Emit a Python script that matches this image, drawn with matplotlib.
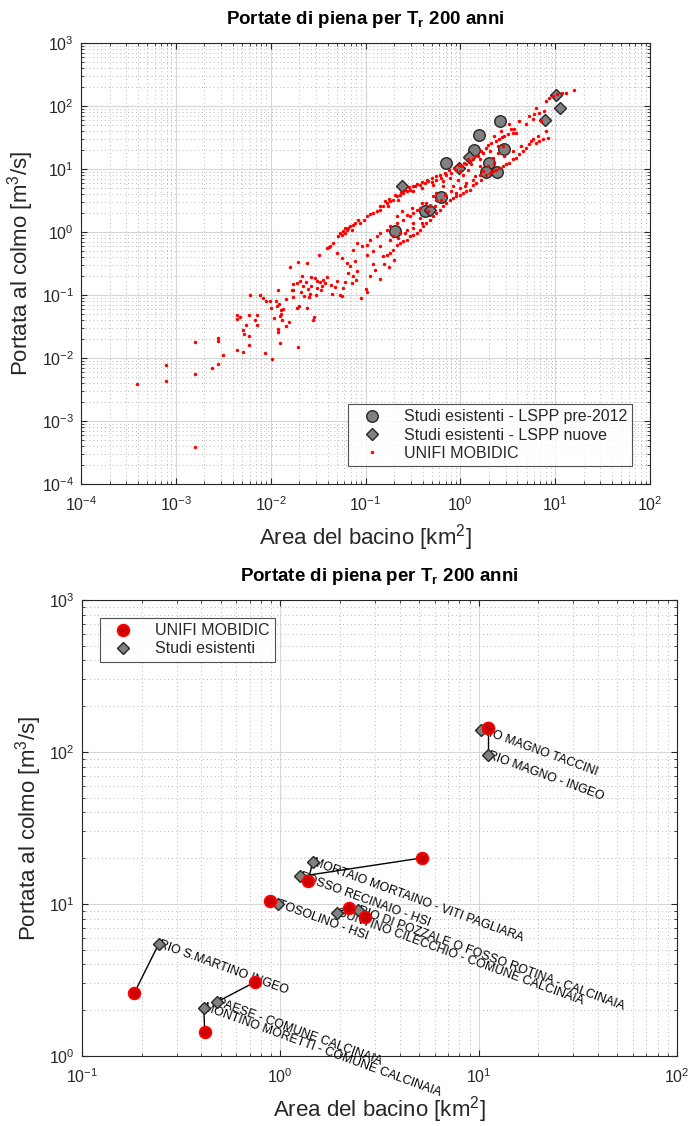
import numpy as np
import matplotlib
matplotlib.use("Agg")
import matplotlib.pyplot as plt
from matplotlib.ticker import LogLocator, NullFormatter, FixedLocator, LogFormatterSciNotation

plt.rcParams['font.family'] = ['Liberation Sans', 'DejaVu Sans']
plt.rcParams['mathtext.fontset'] = 'custom'
plt.rcParams['mathtext.rm'] = 'Liberation Sans'
plt.rcParams['mathtext.it'] = 'Liberation Sans:italic'
plt.rcParams['mathtext.bf'] = 'Liberation Sans:bold'

# ---------------- top chart data (log10 values) ----------------
mobidic_log_area = [
    -3.405, -3.102, -3.102, -2.799, -2.799, -2.799, -2.623, -2.556, -2.500, -2.560,
    -2.556, -2.359, -2.289, -2.359, -2.359, -2.320, -2.257, -2.289, -2.285, -2.225,
    -2.225, -2.225, -2.222, -2.169, -2.144, -2.144, -2.116, -2.077, -2.056, -2.053,
    -2.007, -2.000, -1.986, -1.968, -1.944, -1.937, -1.926, -1.923, -1.919, -1.912,
    -1.901, -1.894, -1.891, -1.898, -1.877, -1.870, -1.842, -1.835, -1.810, -1.799,
    -1.768, -1.771, -1.761, -1.761, -1.722, -1.718, -1.711, -1.711, -1.704, -1.690,
    -1.680, -1.673, -1.655, -1.644, -1.627, -1.620, -1.613, -1.602, -1.592, -1.585,
    -1.577, -1.570, -1.549, -1.539, -1.532, -1.521, -1.514, -1.507, -1.479, -1.472,
    -1.461, -1.444, -1.423, -1.401, -1.366, -1.349, -1.320, -1.296, -1.268, -1.250,
    -1.232, -1.215, -1.197, -1.180, -1.162, -1.109, -1.092, -1.127, -1.144, -1.099,
    -1.493, -1.408, -1.387, -1.338, -1.285, -1.268, -1.250, -1.232, -1.215, -1.197,
    -1.180, -1.162, -1.127, -1.109, -1.215, -1.144, -1.074, -1.373, -1.303, -1.250,
    -1.092, -1.127,
    -1.056, -1.021, -0.986, -0.951, -0.916, -0.881, -0.846, -0.811, -0.776, -0.741,
    -0.706, -0.671, -0.636, -0.601, -0.566, -0.531, -0.479, -0.427, -0.374, -0.339,
    -0.304, -0.252, -0.199, -0.147, -0.094, -0.042, 0.010, 0.056, 0.098, 0.133,
    0.185, 0.238, 0.273, 0.325, 0.360, 0.413, 0.430, 0.517, 0.570, 0.622,
    0.727, 0.762, 0.797, 0.832, 0.850, 0.885, 0.902, 0.937, 0.972, 1.024,
    1.077, 1.112, 1.199,
    -0.846, -0.759, -0.654, -0.497, -0.409, -0.287, -0.182, -0.112, -0.007, 0.115,
    0.203, 0.308, 0.395, 0.465, 0.552, 0.692, 0.780,
    -0.811, -0.776, -0.741, -0.706, -0.671, -0.636, -0.601, -0.566, -0.531, -0.497,
    -0.462, -0.427, -0.392, -0.357, -0.322, -0.287, -0.252, -0.217, -0.182, -0.147,
    -0.112, -0.077, -0.042, -0.007, 0.028, 0.063, 0.098, 0.133, 0.168, 0.220,
    0.273, 0.308, 0.343, 0.378, 0.413, 0.448, 0.483, 0.517, 0.552, 0.587,
    0.622, 0.657, 0.692, 0.727, 0.745, 0.797, 0.832, 0.867, 0.920,
    0.587, 0.500, 0.448, 0.395, 0.343, 0.203, 0.080, 0.028, -0.024, -0.077,
    -0.182, -0.252, -0.287, -0.357, -0.427, -0.497, -0.531, -0.601, -0.671, -0.741,
    -0.776, -0.846, -0.881, -0.951, -0.986, -1.038, -0.706, -0.636, -0.566, -0.497,
    -0.427, -0.339, -0.269, -0.199, -0.042, 0.045, 0.133, 0.238,
    -1.000, -0.950, -0.900, -0.850, -0.800, -0.750, -0.700, -1.050, -0.980, -0.920,
    -0.794, -0.748, -0.689, -0.629, -0.584, -0.538, -0.503, -0.455, -0.399, -0.350,
    -0.304, -0.259, -0.217, -0.164, -0.119, -0.070, -0.014, 0.035, 0.080, 0.150,
    0.220, 0.290, 0.371, 0.441, 0.535,
    -0.671, -0.619, -0.566, -0.514, -0.462, -0.409, -0.322, -0.252, -0.164, -0.094,
    -0.007, 0.063, 0.150, 0.203, 0.290, 0.360, 0.465, 0.552, 0.640, 0.762,
    0.815, 0.902, -0.741, -0.654, -0.584, -0.497, -0.409, -0.846, -0.916, -0.986,
]
mobidic_log_q = [
    -2.413, -2.116, -2.360, -1.751, -2.254, -3.418, -2.153, -2.095, -1.958, -1.688,
    -1.725, -1.873, -1.905, -1.317, -1.381, -1.354, -1.471, -1.550, -1.619, -1.317,
    -1.646, -1.799, -1.000, -1.402, -1.317, -1.481, -1.000, -1.053, -1.921, -1.095,
    -1.101, -1.212, -2.016, -1.370, -1.101, -1.175, -0.915, -1.540, -1.582, -1.138,
    -1.328, -1.233, -1.296, -1.762, -1.397, -1.222, -1.497, -1.063, -1.434, -0.556,
    -0.831, -0.915, -0.926, -1.032, -1.212, -0.810, -0.476, -1.820, -1.169, -0.772,
    -0.952, -0.704, -0.852, -1.021, -0.794, -0.487, -1.206, -0.905, -1.037, -0.979,
    -0.857, -0.714, -1.392, -1.349, -0.735, -1.005, -0.783, -0.884, -0.788, -0.926,
    -0.862, -0.757, -0.810, -0.714, -0.836, -0.979, -0.873, -0.783, -0.995, -1.016,
    -0.889, -0.788, -0.492, -0.651, -0.545, -0.466, -0.624, -0.704, -0.810, -0.757,
    -0.370, -0.254, -0.243, -0.180, -0.058, -0.016, -0.042, 0.011, -0.016, 0.037,
    0.063, 0.090, 0.116, 0.143, 0.063, 0.037, 0.196, -0.228, -0.333, -0.413,
    -0.175, -0.280,
    0.143, 0.196, 0.249, 0.292, 0.302, 0.329, 0.355, 0.408, 0.462, 0.488,
    0.515, 0.568, 0.594, 0.621, 0.647, 0.674, 0.727, 0.753, 0.780, 0.806,
    0.859, 0.833, 0.859, 0.897, 0.939, 0.992, 1.045, 1.072, 1.125, 1.151,
    1.204, 1.257, 1.337, 1.416, 1.523, 1.469, 1.602, 1.708, 1.629, 1.761,
    1.841, 1.788, 1.973, 1.894, 1.761, 1.920, 2.080, 2.133, 2.159, 2.186,
    2.212, 2.212, 2.255,
    0.408, 0.408, 0.515, 0.647, 0.700, 0.753, 0.806, 0.859, 0.966, 1.072,
    1.151, 1.284, 1.363, 1.523, 1.576, 1.708, 1.867,
    -0.387, -0.361, -0.334, -0.281, -0.202, -0.175, -0.149, -0.122, -0.069, -0.042,
    -0.016, 0.037, 0.090, 0.143, 0.196, 0.249, 0.302, 0.355, 0.408, 0.462,
    0.515, 0.541, 0.568, 0.594, 0.621, 0.647, 0.674, 0.753, 0.780, 0.833,
    0.912, 0.939, 0.966, 0.992, 1.019, 1.045, 1.072, 1.098, 1.151, 1.178,
    1.231, 1.284, 1.337, 1.390, 1.443, 1.416, 1.443, 1.469, 1.496,
    1.576, 1.549, 1.363, 1.257, 1.178, 1.045, 0.992, 0.912, 0.833, 0.727,
    0.727, 0.621, 0.568, 0.462, 0.382, 0.302, 0.249, 0.196, 0.143, 0.090,
    0.037, -0.016, -0.069, -0.122, -0.202, -0.228, -0.069, -0.016, 0.037, 0.143,
    0.223, 0.329, 0.408, 0.515, 0.621, 0.727, 0.833, 0.966,
    -0.900, -0.700, -0.600, -0.750, -0.500, -0.550, -0.450, -1.050, -0.950, -0.500,
    0.488, 0.525, 0.594, 0.631, 0.674, 0.711, 0.737, 0.769, 0.790, 0.833,
    0.801, 0.886, 0.912, 0.939, 0.981, 1.019, 1.056, 1.098, 1.151, 1.204,
    1.284, 1.374, 1.443, 1.512, 1.629,
    0.249, 0.329, 0.276, 0.382, 0.355, 0.462, 0.408, 0.515, 0.594, 0.647,
    0.700, 0.780, 0.886, 0.912, 1.045, 1.098, 1.204, 1.284, 1.363, 1.469,
    1.523, 1.602, -0.122, -0.096, -0.016, 0.064, 0.143, -0.228, -0.308, -0.361,
]

pre2012_area = [2.65, 1.56, 2.92, 1.41, 0.71, 2.03, 1.87, 2.44, 0.62, 0.42, 0.205]
pre2012_q = [57.0, 35.0, 20.4, 20.0, 12.6, 12.6, 8.9, 9.0, 3.6, 2.14, 1.05]

nuove_area = [10.2, 11.2, 7.85, 1.23, 0.97, 0.24, 0.48]
nuove_q = [148.0, 94.0, 61.0, 15.6, 10.2, 5.3, 2.2]

top_xticks = [1e-4, 1e-3, 1e-2, 1e-1, 1e0, 1e1, 1e2]
top_yticks = [1e-4, 1e-3, 1e-2, 1e-1, 1e0, 1e1, 1e2, 1e3]

# ---------------- bottom chart data ----------------
study_names = [
    "RIO MAGNO TACCINI",
    "RIO MAGNO - INGEO",
    "MORTAIO MORTAINO - VITI PAGLIARA",
    "FOSSO RECINAIO - HSI",
    "TOSOLINO - HSI",
    "GUNTINO CILECCHIO - COMUNE CALCINAIA",
    "RIO DI POZZALE O FOSSO ROTINA - CALCINAIA",
    "RIO S.MARTINO INGEO",
    "PAESE - COMUNE CALCINAIA",
    "MONTINO MORETTI - COMUNE CALCINAIA",
]
study_area = [10.3, 11.1, 1.456, 1.26, 0.974, 1.93, 2.46, 0.244, 0.477, 0.411]
study_q = [139.0, 95.5, 18.9, 15.2, 9.95, 8.79, 9.1, 5.48, 2.26, 2.08]
mob_area = [11.1, 11.1, 1.38, 5.19, 0.891, 2.23, 2.66, 0.183, 0.743, 0.416]
mob_q = [143.0, 143.0, 14.1, 20.1, 10.5, 9.46, 8.22, 2.58, 3.06, 1.43]

bot_xticks = [1e-1, 1e0, 1e1, 1e2]
bot_yticks = [1e0, 1e1, 1e2, 1e3]

title_txt = r"Portate di piena per $\mathbf{T_r}$ 200 anni"
xlab = r"Area del bacino [km$^2$]"
ylab = r"Portata al colmo [m$^3$/s]"

axis_col = (0.15, 0.15, 0.15)


def style_axes(ax, xticks, yticks):
    ax.set_xscale('log')
    ax.set_yscale('log')
    ax.set_xlim(xticks[0], xticks[-1])
    ax.set_ylim(yticks[0], yticks[-1])
    ax.xaxis.set_major_locator(FixedLocator(xticks))
    ax.yaxis.set_major_locator(FixedLocator(yticks))
    ax.xaxis.set_major_formatter(LogFormatterSciNotation())
    ax.yaxis.set_major_formatter(LogFormatterSciNotation())
    ax.xaxis.set_minor_locator(LogLocator(base=10, subs=np.arange(2, 10), numticks=200))
    ax.yaxis.set_minor_locator(LogLocator(base=10, subs=np.arange(2, 10), numticks=200))
    ax.xaxis.set_minor_formatter(NullFormatter())
    ax.yaxis.set_minor_formatter(NullFormatter())
    ax.grid(True, which='major', color='#d6d6d6', lw=0.8, zorder=0)
    ax.grid(True, which='minor', color='#b8b8b8', ls=(0, (1, 3)), lw=0.7, zorder=0)
    ax.set_axisbelow(True)
    ax.tick_params(which='both', direction='in', top=True, right=True, colors=axis_col,
                   labelsize=11.5, labelcolor=axis_col)
    ax.tick_params(axis='x', which='major', pad=8)
    ax.tick_params(axis='y', which='major', pad=5)
    ax.tick_params(which='major', length=4, width=0.8)
    ax.tick_params(which='minor', length=2.5, width=0.6)
    for s in ax.spines.values():
        s.set_color(axis_col)
        s.set_linewidth(0.8)
    ax.set_title(title_txt, fontsize=13.5, fontweight='bold', pad=14)
    ax.set_xlabel(xlab, fontsize=16, color=axis_col, labelpad=6)
    ax.set_ylabel(ylab, fontsize=16, color=axis_col, labelpad=4)


fig = plt.figure(figsize=(6.91, 11.26), dpi=100)
W, H = 691.0, 1126.0

# ---------------- top chart ----------------
ax1 = fig.add_axes([81 / W, 1 - 484 / H, (650 - 81) / W, (484 - 43) / H])
style_axes(ax1, top_xticks, top_yticks)
ax1.plot(pre2012_area, pre2012_q, ls='none', marker='o', ms=8.3, mfc=(0.5, 0.5, 0.5),
         mec=(0.15, 0.15, 0.15), mew=1.0, label='Studi esistenti - LSPP pre-2012', zorder=3)
ax1.plot(nuove_area, nuove_q, ls='none', marker='D', ms=6.5, mfc=(0.5, 0.5, 0.5),
         mec=(0.15, 0.15, 0.15), mew=1.0, label='Studi esistenti - LSPP nuove', zorder=3)
ax1.plot(10 ** np.array(mobidic_log_area), 10 ** np.array(mobidic_log_q), ls='none',
         marker='o', ms=2.5, mfc='red', mec='none', label='UNIFI MOBIDIC', zorder=4)
leg1 = ax1.legend(loc='lower right', fontsize=11.5, frameon=True, fancybox=False,
                  edgecolor=axis_col, borderpad=0.35, handlelength=2.2, handletextpad=0.9,
                  labelspacing=0.2, borderaxespad=1.1)
leg1.get_frame().set_linewidth(0.8)
for t in leg1.get_texts():
    t.set_color(axis_col)

# ---------------- bottom chart ----------------
ax2 = fig.add_axes([82 / W, 1 - 1056 / H, (677 - 82) / W, (1056 - 600) / H])
style_axes(ax2, bot_xticks, bot_yticks)
for sa, sq, ma, mq in zip(study_area, study_q, mob_area, mob_q):
    ax2.plot([sa, ma], [sq, mq], color='black', lw=1.0, zorder=2)
for name, sa, sq in zip(study_names, study_area, study_q):
    ax2.text(sa, sq, name, rotation=-20, rotation_mode='anchor', ha='left', va='center',
             fontsize=8.9, color='black', zorder=3)
ax2.plot(mob_area, mob_q, ls='none', marker='o', ms=8.5, mfc=(0.8, 0.0, 0.0),
         mec=(1.0, 0.0, 0.0), mew=1.2, label='UNIFI MOBIDIC', zorder=5)
ax2.plot(study_area, study_q, ls='none', marker='D', ms=6.5, mfc=(0.5, 0.5, 0.5),
         mec=(0.15, 0.15, 0.15), mew=1.0, label='Studi esistenti', zorder=4)
leg2 = ax2.legend(loc='upper left', fontsize=11.5, frameon=True, fancybox=False,
                  edgecolor=axis_col, borderpad=0.35, handlelength=2.2, handletextpad=0.9,
                  labelspacing=0.2, borderaxespad=1.1)
leg2.get_frame().set_linewidth(0.8)
for t in leg2.get_texts():
    t.set_color(axis_col)

fig.savefig('out.png', dpi=100, facecolor='white')
